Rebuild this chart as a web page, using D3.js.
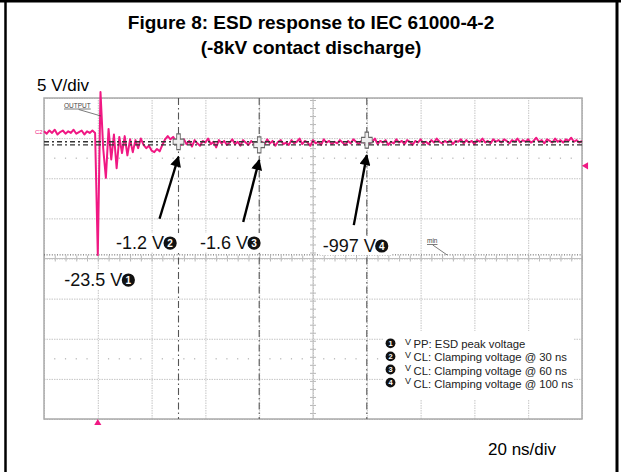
<!DOCTYPE html>
<html>
<head>
<meta charset="utf-8">
<script src="https://cdn.jsdelivr.net/npm/d3@7"></script>
<style>
  body { margin: 0; background: #fff; }
  text { font-family: "Liberation Sans", Arial, sans-serif; }
</style>
</head>
<body>
<div id="chart"></div>
<script>
// Titles and scale captions
var titleLines = ["Figure 8: ESD response to IEC 61000-4-2", "(-8kV contact discharge)"];
var voltsCaption = "5 V/div";
var timeCaption = "20 ns/div";

// Graticule (ns across, volts down; 0 V sits at the C2 marker)
var gridNs = [-20, 0, 20, 40, 60, 80, 100, 120, 140, 160, 180];
var gridVolts = [4.25, -0.75, -5.75, -10.75, -15.75, -20.75, -25.75, -30.75, -35.75];

// Scope trace, one sample per ns starting at -20 ns
var traceStartNs = -20;
var sampleNs = 1;
var traceVolts = [
  0.1, -0.2, 0.2, -0.1, 0.3, -0.3, 0.0, 0.2, -0.2, 0.1,
  -0.1, 0.3, -0.2, 0.0, 0.2, -0.3, 0.1, -0.1, 0.2, -0.1,
  -15.3, 5.0, -2.0, -5.7, 0.4, -3.4, -0.3, -4.5, -0.6, -2.6,
  -0.5, -2.9, -0.9, -2.5, -1.0, -2.0, -0.8, -1.6, -2.0, -1.7,
  -2.3, -2.5, -2.1, -2.4, -1.6, -0.9, -0.5, -0.9, -0.6, -1.1,
  -1.2, -1.6, -0.9, -1.5, -1.1, -1.8, -1.0, -1.4, -1.7, -1.1,
  -1.3, -0.8, -1.5, -1.2, -1.9, -1.0, -1.4, -1.1, -1.6, -1.3,
  -0.9, -1.5, -1.2, -1.7, -1.0, -1.3, -1.6, -1.1, -1.4, -1.8,
  -1.6, -1.2, -1.5, -0.9, -1.4, -1.1, -1.7, -1.2, -1.0, -1.5,
  -1.3, -1.6, -1.0, -1.4, -1.2, -0.8, -1.5, -1.1, -1.3, -1.7,
  -1.0, -1.4, -1.2, -1.6, -0.9, -1.3, -1.1, -1.5, -1.2, -1.4,
  -1.0, -1.3, -1.6, -1.1, -1.4, -0.9, -1.2, -1.5, -1.1, -1.3,
  -1.0, -1.4, -1.2, -0.8, -1.5, -1.1, -1.3, -1.0, -1.6, -1.2,
  -1.4, -0.9, -1.3, -1.1, -1.5, -1.0, -1.2, -1.6, -1.1, -1.3,
  -0.9, -1.4, -1.2, -1.5, -1.0, -1.3, -0.8, -1.2, -1.4, -1.1,
  -1.3, -1.0, -1.5, -1.1, -1.2, -0.9, -1.4, -1.0, -1.3, -1.1,
  -1.5, -1.0, -1.2, -0.8, -1.3, -1.1, -1.4, -0.9, -1.2, -1.0,
  -1.3, -0.9, -1.1, -1.4, -1.0, -1.2, -0.8, -1.3, -1.0, -1.2,
  -0.9, -1.3, -1.1, -0.7, -1.2, -1.0, -1.4, -0.9, -1.1, -1.3,
  -0.8, -1.2, -1.0, -1.3, -0.9, -1.1, -0.7, -1.2, -1.0, -1.3,
  -1.1
];

// Cursor readings
var cursorNs = [30, 60, 100];
var cursorVolts = [-1.2, -1.6, -0.997];
var cursorText = ["-1.2 V", "-1.6 V", "-997 V"];
var cursorBadge = ["2", "3", "4"];
var cursorLabelNs = [6.8, 38.0, 83.6];
var cursorLabelVolts = [-14.57, -14.57, -14.94];
var peakText = "-23.5 V";
var peakLabelNs = -12.45;
var peakLabelVolts = -19.18;

// Legend
var legendBadge = ["1", "2", "3", "4"];
var legendSub = ["PP", "CL", "CL", "CL"];
var legendText = [": ESD peak voltage", ": Clamping voltage @ 30 ns",
  ": Clamping voltage @ 60 ns", ": Clamping voltage @ 100 ns"];

var svgWidth = 621;
var svgHeight = 472;
var plot = { left: 44, top: 98, right: 582, bottom: 419 };
var traceColor = "#f01883";

var svg = d3.select("#chart")
  .append("svg")
  .attr("width", svgWidth)
  .attr("height", svgHeight);

// outer figure frame
svg.append("line").attr("x1", 0).attr("x2", svgWidth).attr("y1", 1.2).attr("y2", 1.2)
  .attr("stroke", "#000").attr("stroke-width", 2.5);
svg.append("line").attr("x1", 5.5).attr("x2", 5.5).attr("y1", 0).attr("y2", svgHeight)
  .attr("stroke", "#000").attr("stroke-width", 2.5);
svg.append("line").attr("x1", 617).attr("x2", 617).attr("y1", 0).attr("y2", svgHeight)
  .attr("stroke", "#000").attr("stroke-width", 3);

// title
svg.selectAll(".title")
  .data(titleLines)
  .enter()
  .append("text")
  .attr("class", "title")
  .attr("x", 311)
  .attr("y", (d, i) => 29 + i * 24.5)
  .attr("text-anchor", "middle")
  .style("font-size", "19px")
  .style("font-weight", "bold")
  .text(d => d);

svg.append("text").attr("x", 37).attr("y", 91).style("font-size", "17px").text(voltsCaption);
svg.append("text").attr("x", 488).attr("y", 455).style("font-size", "17px").text(timeCaption);

// scales
var x = d3.scaleLinear().domain([-20, 180]).range([plot.left, plot.right]);
var y = d3.scaleLinear().domain([4.25, -35.75]).range([plot.top, plot.bottom]);
var plotW = plot.right - plot.left;
var plotH = plot.bottom - plot.top;

// graticule through axes
var gx = svg.append("g")
  .attr("transform", `translate(0, ${plot.bottom})`)
  .call(d3.axisBottom(x).tickValues(gridNs).tickSize(-plotH).tickFormat(""));
var gy = svg.append("g")
  .attr("transform", `translate(${plot.left}, 0)`)
  .call(d3.axisLeft(y).tickValues(gridVolts).tickSize(-plotW).tickFormat(""));
[gx, gy].forEach(function(g) {
  g.select(".domain").remove();
  g.selectAll("line")
    .attr("stroke", "#c4c4c4")
    .attr("stroke-width", 1)
    .attr("stroke-dasharray", "1.5,1");
});

// dotted rows at +/- 2.5 div from centre
var minorNs = d3.range(-20, 180.1, 4);
[-3.25, -28.25].forEach(function(v) {
  svg.append("g").selectAll("rect")
    .data(minorNs.filter(t => t % 20 !== 0))
    .enter()
    .append("rect")
    .attr("x", d => x(d) - 0.6)
    .attr("y", y(v) - 0.6)
    .attr("width", 1.2)
    .attr("height", 1.2)
    .attr("fill", "#b0b0b0");
});

// centre axes with minor ticks
var centerV = -15.75;
var centerNs = 80;
["top", "bottom"].forEach(function(side) {
  var ax = side === "top" ? d3.axisTop(x) : d3.axisBottom(x);
  var g = svg.append("g")
    .attr("transform", `translate(0, ${y(centerV)})`)
    .call(ax.tickValues(minorNs).tickSize(3).tickFormat(""));
  g.select(".domain").remove();
  g.selectAll("line").attr("stroke", "#b8b8b8");
});
["left", "right"].forEach(function(side) {
  var ax = side === "left" ? d3.axisLeft(y) : d3.axisRight(y);
  var g = svg.append("g")
    .attr("transform", `translate(${x(centerNs)}, 0)`)
    .call(ax.tickValues(d3.range(-35, 4.1, 1)).tickSize(3).tickFormat(""));
  g.select(".domain").remove();
  g.selectAll("line").attr("stroke", "#b8b8b8");
});
svg.append("line")
  .attr("x1", plot.left).attr("x2", plot.right)
  .attr("y1", y(centerV)).attr("y2", y(centerV))
  .attr("stroke", "#c0c0c0");
svg.append("line")
  .attr("x1", x(centerNs)).attr("x2", x(centerNs))
  .attr("y1", plot.top).attr("y2", plot.bottom)
  .attr("stroke", "#c0c0c0");

// plot border
svg.append("rect")
  .attr("x", plot.left).attr("y", plot.top)
  .attr("width", plotW).attr("height", plotH)
  .attr("fill", "none")
  .attr("stroke", "#aaaaaa")
  .attr("stroke-width", 1.5);

// vertical cursors
svg.append("g").selectAll("line")
  .data(cursorNs)
  .enter()
  .append("line")
  .attr("x1", d => x(d)).attr("x2", d => x(d))
  .attr("y1", plot.top).attr("y2", plot.bottom)
  .attr("stroke", "#555")
  .attr("stroke-width", 1.1)
  .attr("stroke-dasharray", "7,3,1.5,3");

// min line
var minV = d3.min(traceVolts);
svg.append("line")
  .attr("x1", plot.left).attr("x2", plot.right)
  .attr("y1", y(minV)).attr("y2", y(minV))
  .attr("stroke", "#555")
  .attr("stroke-width", 1)
  .attr("stroke-dasharray", "1,1.6");

// trace
var traceLine = d3.line()
  .x((d, i) => x(traceStartNs + i * sampleNs))
  .y(d => y(d));
svg.append("path")
  .datum(traceVolts)
  .attr("d", traceLine)
  .attr("fill", "none")
  .attr("stroke", traceColor)
  .attr("stroke-width", 2)
  .attr("stroke-linejoin", "round");

// horizontal cursors
svg.append("g").selectAll("line")
  .data(cursorVolts.slice(0, 2))
  .enter()
  .append("line")
  .attr("x1", plot.left).attr("x2", plot.right)
  .attr("y1", d => y(d)).attr("y2", d => y(d))
  .attr("stroke", "#333")
  .attr("stroke-width", 1.3)
  .attr("stroke-dasharray", "5,3,2,3");

// cursor cross markers
svg.append("g").selectAll("path")
  .data(cursorNs)
  .enter()
  .append("path")
  .attr("d", d3.symbol().type(d3.symbolCross).size(90))
  .attr("transform", (d, i) => `translate(${x(d)}, ${y(cursorVolts[i])}) scale(0.85, 1.25)`)
  .attr("fill", "#eeeeee")
  .attr("stroke", "#666")
  .attr("stroke-width", 1);

// scope markers
svg.append("text").attr("x", 35).attr("y", 134).style("font-size", "6px")
  .attr("fill", traceColor).text("C2");
svg.append("path")
  .attr("d", d3.symbol().type(d3.symbolTriangle).size(22))
  .attr("transform", `translate(${x(0)}, ${plot.bottom + 4})`)
  .attr("fill", traceColor);
svg.append("path")
  .attr("d", d3.symbol().type(d3.symbolTriangle).size(22))
  .attr("transform", `translate(${plot.right + 4}, ${y(-4.2)}) rotate(-90)`)
  .attr("fill", traceColor);

// "OUTPUT" and "min" tags
function tag(label, tx, ty, lx, ly) {
  var t = svg.append("text").attr("x", tx).attr("y", ty)
    .style("font-size", "6.5px").attr("fill", "#444").text(label);
  var w = t.node().getComputedTextLength();
  svg.append("line").attr("x1", tx).attr("x2", tx + w).attr("y1", ty + 1.5).attr("y2", ty + 1.5)
    .attr("stroke", "#444").attr("stroke-width", 0.7);
  svg.append("line").attr("x1", tx + w * 0.55).attr("x2", lx).attr("y1", ty + 2).attr("y2", ly)
    .attr("stroke", "#444").attr("stroke-width", 0.7);
}
tag("OUTPUT", 64, 107.5, x(1.2), 116);
tag("min", 427, 243, 447, y(minV));

// arrows
var arrowTailDx = [-19, -16, -13];
var arrowTailDy = [62, 62, 70];
svg.append("defs").append("marker")
  .attr("id", "head")
  .attr("viewBox", "0 0 10 10")
  .attr("refX", 9).attr("refY", 5)
  .attr("markerWidth", 7).attr("markerHeight", 4.6)
  .attr("orient", "auto")
  .append("path")
  .attr("d", "M0,0 L10,5 L0,10 Z")
  .attr("fill", "#000");
svg.append("g").selectAll("line")
  .data(cursorNs)
  .enter()
  .append("line")
  .attr("x1", (d, i) => x(d) + arrowTailDx[i])
  .attr("y1", (d, i) => y(cursorVolts[i]) + 15 + arrowTailDy[i])
  .attr("x2", d => x(d))
  .attr("y2", (d, i) => y(cursorVolts[i]) + 15)
  .attr("stroke", "#000")
  .attr("stroke-width", 2.4)
  .attr("marker-end", "url(#head)");

// labels with badges
function badge(g, cx, cy, r, num, fs) {
  g.append("circle").attr("cx", cx).attr("cy", cy).attr("r", r).attr("fill", "#111");
  g.append("text").attr("x", cx).attr("y", cy + fs * 0.36)
    .attr("text-anchor", "middle")
    .style("font-size", fs + "px").style("font-weight", "bold")
    .attr("fill", "#fff").text(num);
}
function valueLabel(label, num, ns, volts) {
  var g = svg.append("g");
  var bg = g.append("rect").attr("fill", "#fff");
  var t = g.append("text").attr("x", x(ns)).attr("y", y(volts))
    .style("font-size", "18px").attr("fill", "#111").text(label);
  var w = t.node().getComputedTextLength();
  var cx = x(ns) + w + 6;
  bg.attr("x", x(ns) - 3).attr("y", y(volts) - 16)
    .attr("width", w + 19).attr("height", 19);
  badge(g, cx, y(volts) - 6, 6.6, num, 10);
}
cursorText.forEach(function(label, i) {
  valueLabel(label, cursorBadge[i], cursorLabelNs[i], cursorLabelVolts[i]);
});
valueLabel(peakText, "1", peakLabelNs, peakLabelVolts);

// legend
svg.append("rect")
  .attr("x", 383).attr("y", 331)
  .attr("width", 190).attr("height", 68)
  .attr("fill", "#fff");
var legend = svg.append("g");
legendBadge.forEach(function(num, i) {
  var by = 343.3 + i * 13.1;
  badge(legend, 390.5, by, 4.9, num, 7.5);
  var t = legend.append("text").attr("x", 405).attr("y", by + 5)
    .style("font-size", "11.3px").attr("fill", "#222");
  t.append("tspan").attr("dy", -3.5).style("font-size", "9px").text("V");
  t.append("tspan").attr("dy", 3.5).attr("dx", 2.5).text(legendSub[i]);
  t.append("tspan").text(legendText[i]);
});
</script>
</body>
</html>
